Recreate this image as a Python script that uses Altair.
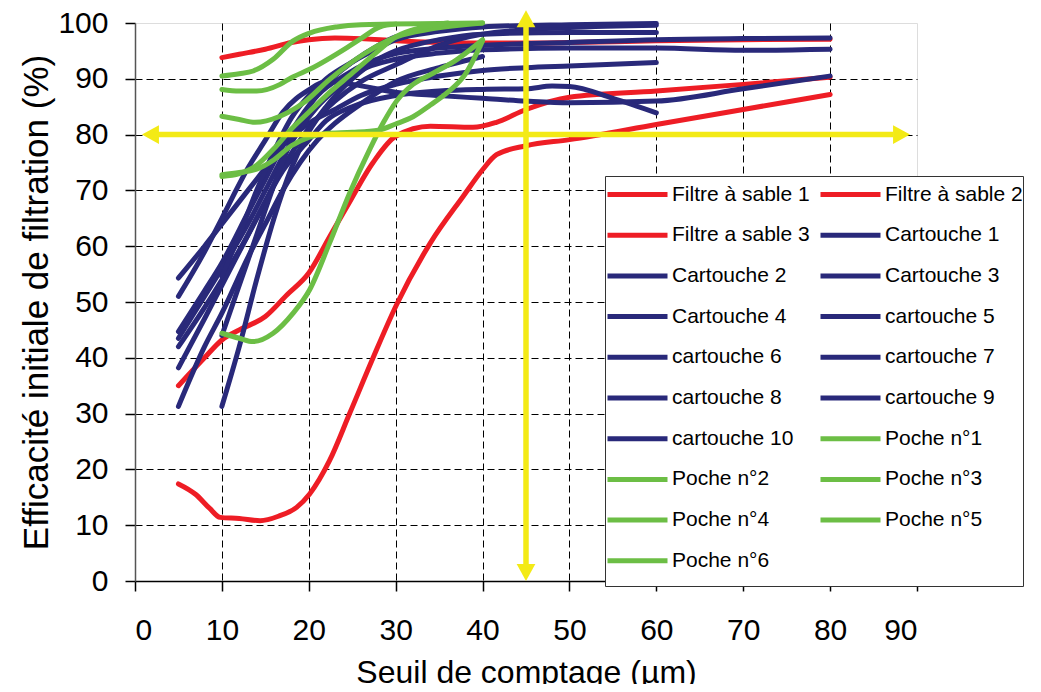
import altair as alt
import pandas as pd

# ---------------- data ----------------
series_names = [
    "Filtre à sable 1", "Filtre à sable 2", "Filtre a sable 3",
    "Cartouche 1", "Cartouche 2", "Cartouche 3", "Cartouche 4",
    "cartouche 5", "cartouche 6", "cartouche 7", "cartouche 8",
    "cartouche 9", "cartouche 10",
    "Poche n°1", "Poche n°2", "Poche n°3", "Poche n°4", "Poche n°5", "Poche n°6",
]

RED = "#EE1D25"
BLUE = "#29297A"
GREEN = "#6CBE45"
YELLOW = "#F3EA16"
series_colors = [RED] * 3 + [BLUE] * 10 + [GREEN] * 6
series_widths = [5] * 3 + [6.3] * 10 + [5] * 6

# Filtres à sable
fs1_x = [10, 12, 15, 18, 20, 23, 26, 30, 35, 40, 45, 50, 60, 70, 80]
fs1_y = [93.8, 94.4, 95.3, 96.5, 97.0, 97.3, 97.2, 96.8, 96.5, 96.4, 96.4, 96.5, 96.8, 97.0, 97.1]
fs2_x = [5, 8, 10, 12, 15, 17.5, 20, 22.4, 24.4, 27.4, 30, 34, 38.9, 41.6, 45, 50, 60, 70, 80]
fs2_y = [35.0, 40.0, 43.2, 45.0, 47.4, 51.3, 55.2, 61.7, 67.1, 75.0, 79.7, 81.5, 81.3, 82.2, 84.5, 86.7, 87.8, 89.0, 90.3]
fs3_x = [5, 7, 8.6, 9.8, 12, 14.4, 16.5, 18.6, 20.1, 22.4, 24.7, 27.4, 30.1, 34, 37.8, 40, 41.6, 45, 50, 60, 70, 80]
fs3_y = [17.4, 15.5, 13.0, 11.4, 11.2, 10.8, 11.6, 13.2, 15.6, 21.6, 30.0, 40.0, 49.5, 60.6, 69.0, 73.7, 76.4, 78.0, 79.1, 81.8, 84.5, 87.2]

# Cartouches
c1_x = [5, 8, 10, 13, 15, 17, 20, 23, 26, 30, 35, 40, 45, 50, 60]
c1_y = [54.3, 60.0, 64.0, 70.0, 74.0, 78.0, 82.0, 84.5, 87.0, 89.0, 90.5, 91.5, 92.0, 92.3, 92.9]
c2_x = [5, 8, 10, 13, 15, 17, 20, 22, 25, 30, 35, 40, 45, 50, 60, 70, 80]
c2_y = [51.0, 59.0, 65.0, 74.0, 79.0, 84.0, 88.0, 89.5, 89.0, 87.6, 87.0, 86.5, 86.0, 85.7, 86.0, 88.2, 90.5]
c3_x = [5, 8, 10, 13, 15, 17, 19, 21, 24, 27, 30, 35, 40, 50, 60, 70, 80]
c3_y = [44.7, 52.0, 57.0, 66.0, 72.0, 78.0, 83.0, 87.0, 90.5, 93.0, 94.5, 95.5, 96.0, 96.5, 97.0, 97.2, 97.3]
c4_x = [5, 8, 10, 13, 15, 17, 19, 21, 23, 26, 30, 35, 40, 50, 60, 70, 80]
c4_y = [43.5, 51.0, 56.0, 64.0, 70.0, 76.0, 81.0, 85.0, 88.0, 91.5, 93.5, 94.6, 95.2, 95.5, 95.5, 95.1, 95.3]
c5_x = [5, 8, 10, 13, 15, 17, 19, 21, 23, 26, 30, 35, 40, 45, 50, 60]
c5_y = [42.0, 49.0, 54.0, 62.0, 68.0, 74.0, 79.0, 83.0, 86.0, 89.5, 92.5, 96.0, 98.0, 98.8, 99.2, 99.6]
c6_x = [5, 8, 10, 13, 15, 17, 20, 22, 25, 30, 35, 40, 45, 48, 50, 55, 60]
c6_y = [38.2, 47.0, 53.0, 62.0, 68.0, 73.5, 79.0, 82.5, 85.0, 87.0, 87.8, 88.1, 88.2, 88.7, 88.6, 86.5, 83.9]
c7_x = [5, 8, 10, 13, 15, 17, 19, 21, 23, 26, 30, 35, 40]
c7_y = [31.3, 42.0, 48.0, 58.0, 64.0, 70.0, 75.0, 79.0, 82.0, 85.5, 89.5, 92.0, 94.0]
c8_x = [10, 12, 14, 16, 18, 20, 22, 25, 28, 30, 35, 40, 50, 60]
c8_y = [54.6, 62.0, 70.0, 77.0, 83.0, 87.0, 90.0, 93.0, 95.5, 97.0, 98.5, 99.3, 99.7, 99.9]
c9_x = [10, 12, 14, 16, 18, 20, 22, 25, 28, 30, 35, 40]
c9_y = [44.0, 53.0, 62.0, 71.0, 79.0, 85.0, 89.0, 93.0, 96.0, 97.5, 99.0, 99.8]
c10_x = [10, 12, 14, 16, 18, 20, 22, 25, 28, 30, 35, 40, 50, 60]
c10_y = [31.3, 42.0, 54.0, 65.0, 74.0, 80.5, 85.0, 90.0, 93.5, 95.0, 97.0, 98.0, 98.3, 98.3]

# Poches
p1_x = [10, 12, 13.6, 15.9, 18.2, 20.1, 23.2, 26, 29.3, 35, 40]
p1_y = [90.5, 90.9, 91.4, 93.5, 96.8, 98.2, 99.3, 99.7, 99.8, 99.9, 100.0]
p2_x = [10, 12, 14, 16.7, 18, 20.1, 24.4, 26, 28.2, 30]
p2_y = [88.1, 87.8, 87.8, 89.0, 90.2, 91.7, 95.6, 97.2, 99.3, 99.8]
p3_x = [10, 12, 13.8, 16.7, 19.4, 22.4, 26.3, 30.1, 34, 40]
p3_y = [83.3, 82.7, 82.2, 83.3, 85.7, 89.9, 94.4, 97.5, 98.9, 100.0]
p4_x = [10, 12, 14, 16, 18, 20, 22, 25, 28, 30, 32, 34, 36, 38, 40]
p4_y = [72.8, 73.2, 73.8, 75.5, 78.0, 79.5, 80.2, 80.4, 80.8, 81.9, 83.2, 85.3, 87.6, 90.8, 96.8]
p5_x = [10, 12, 14, 16, 18, 20, 22, 25, 28, 30, 33, 36]
p5_y = [72.5, 73.0, 74.5, 77.5, 81.0, 84.0, 87.0, 91.0, 95.0, 97.5, 99.2, 100.0]
p6_x = [10, 12, 13.6, 15.9, 18.2, 20.1, 22.4, 24.7, 27, 28.6, 30.1, 32, 34.3, 37, 40]
p6_y = [44.4, 43.5, 42.9, 44.4, 48.0, 52.2, 60.6, 69.5, 77.3, 82.2, 86.0, 89.0, 91.0, 93.4, 97.0]

series_x = [fs1_x, fs2_x, fs3_x, c1_x, c2_x, c3_x, c4_x, c5_x, c6_x, c7_x,
            c8_x, c9_x, c10_x, p1_x, p2_x, p3_x, p4_x, p5_x, p6_x]
series_y = [fs1_y, fs2_y, fs3_y, c1_y, c2_y, c3_y, c4_y, c5_y, c6_y, c7_y,
            c8_y, c9_y, c10_y, p1_y, p2_y, p3_y, p4_y, p5_y, p6_y]

# yellow reading arrows (threshold 80 % / 45 µm)
arrow_h_y = 80
arrow_h_shaft = [2.5, 87.3]
arrow_h_tips = [0.8, 89.2]
arrow_v_x = 45
arrow_v_shaft = [2.8, 99.3]
arrow_v_tips = [0.0, 102.3]

# ---------------- build tables ----------------
rows = []
for name, xs, ys in zip(series_names, series_x, series_y):
    for xv, yv in zip(xs, ys):
        rows.append({"serie": name, "seuil": xv, "eff": yv})
df = pd.DataFrame(rows)

shaft_df = pd.DataFrame([
    {"x": arrow_h_shaft[0], "x2": arrow_h_shaft[1], "y": arrow_h_y, "y2": arrow_h_y},
    {"x": arrow_v_x, "x2": arrow_v_x, "y": arrow_v_shaft[0], "y2": arrow_v_shaft[1]},
])
head_df = pd.DataFrame([
    {"x": arrow_h_tips[0], "y": arrow_h_y, "dir": "left"},
    {"x": arrow_h_tips[1], "y": arrow_h_y, "dir": "right"},
    {"x": arrow_v_x, "y": arrow_v_tips[0], "dir": "down"},
    {"x": arrow_v_x, "y": arrow_v_tips[1], "dir": "up"},
])
head_shapes = {
    "left": "M0,0L2,-1.1L2,1.1Z",
    "right": "M0,0L-2,-1.1L-2,1.1Z",
    "down": "M0,0L-1.1,-2L1.1,-2Z",
    "up": "M0,0L-1.1,2L1.1,2Z",
}

FONT = "Liberation Sans"

xscale = alt.Scale(domain=[0, 90], nice=False, zero=False)
yscale = alt.Scale(domain=[0, 100], nice=False, zero=False)

x_axis = alt.Axis(
    values=list(range(0, 91, 10)), title="Seuil de comptage (µm)",
    labelFontSize=30, titleFontSize=32, labelFont=FONT, titleFont=FONT,
    labelColor="black", titleColor="black", titleFontWeight="normal",
    tickSize=10, tickColor="black", tickWidth=1.5, domainColor="black", domainWidth=1.5,
    labelPadding=24, titlePadding=12,
    grid=True, gridColor="black", gridDash=[7, 4], gridWidth=1,
    gridOpacity={"condition": {"test": "datum.value === 0 || datum.value === 90", "value": 0}, "value": 1},
)
y_axis = alt.Axis(
    values=list(range(0, 101, 10)), title="Efficacité initiale de filtration (%)",
    labelFontSize=30, titleFontSize=35, labelFont=FONT, titleFont=FONT,
    labelColor="black", titleColor="black", titleFontWeight="normal",
    tickSize=10, tickColor="black", tickWidth=1.5, domainColor="#555555", domainWidth=1.5,
    labelPadding=17, titlePadding=3,
    grid=True, gridColor="black", gridDash=[7, 4], gridWidth=1,
    gridOpacity={"condition": {"test": "datum.value === 0 || datum.value === 100", "value": 0}, "value": 1},
)

lines = alt.Chart(df).mark_line(interpolate="monotone", strokeCap="round", strokeJoin="round").encode(
    x=alt.X("seuil:Q", scale=xscale, axis=x_axis),
    y=alt.Y("eff:Q", scale=yscale, axis=y_axis),
    color=alt.Color(
        "serie:N",
        scale=alt.Scale(domain=series_names, range=series_colors),
        legend=alt.Legend(
            title=" ", titleOrient="bottom", titleFontSize=2, titlePadding=5,
            orient="none", direction="horizontal", legendX=470, legendY=153, columns=2,
            symbolType="stroke", symbolSize=3600, symbolStrokeWidth=5.5, clipHeight=37,
            labelFontSize=21, labelFont=FONT, labelColor="black", labelLimit=300,
            labelOffset=2, columnPadding=8, rowPadding=3.7,
            padding=0, fillColor="white", strokeColor="#333333",
        ),
    ),
    strokeWidth=alt.StrokeWidth(
        "serie:N", scale=alt.Scale(domain=series_names, range=series_widths), legend=None
    ),
    detail="serie:N",
)

shafts = alt.Chart(shaft_df).mark_rule(color=YELLOW, strokeWidth=5.5).encode(
    x=alt.X("x:Q", scale=xscale), x2="x2:Q",
    y=alt.Y("y:Q", scale=yscale), y2="y2:Q",
)

heads = alt.layer(*[
    alt.Chart(head_df[head_df["dir"] == d]).mark_point(
        shape=head_shapes[d], filled=True, size=289, color=YELLOW, opacity=1, strokeWidth=0
    ).encode(x=alt.X("x:Q", scale=xscale), y=alt.Y("y:Q", scale=yscale))
    for d in ["left", "right", "down", "up"]
])

chart = alt.layer(lines, shafts, heads).properties(
    width=782, height=558,
    autosize=alt.AutoSizeParams(type="none"),
    padding={"left": 127, "top": 15, "right": 116, "bottom": 103},
).configure_view(fill="#C0C0C0", stroke="transparent").configure(font=FONT)

chart.save("out.html", embed_options={"renderer": "svg", "actions": False})
